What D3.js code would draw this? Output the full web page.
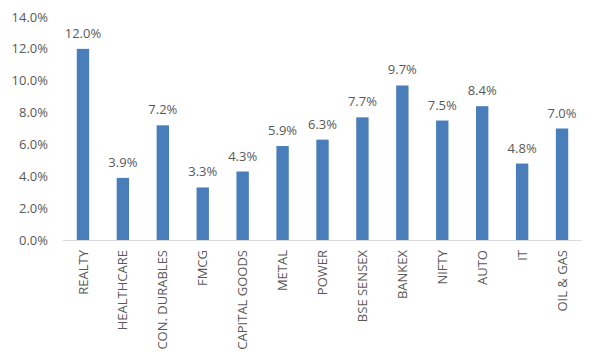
<!DOCTYPE html>
<script src="https://d3js.org/d3.v7.min.js"></script>
<style>
    body { margin: 0; background: #fff; }
    text { font-family: "Open Sans", sans-serif; fill: #595959; }
</style>
<body>
<svg width="600" height="360" class="chart"></svg>
</body>
<script>
    const categories = ['REALTY', 'HEALTHCARE', 'CON. DURABLES', 'FMCG', 'CAPITAL GOODS', 'METAL',
        'POWER', 'BSE SENSEX', 'BANKEX', 'NIFTY', 'AUTO', 'IT', 'OIL & GAS'];
    const values = [12.0, 3.9, 7.2, 3.3, 4.3, 5.9, 6.3, 7.7, 9.7, 7.5, 8.4, 4.8, 7.0];
    const yTicks = [0, 2, 4, 6, 8, 10, 12, 14];

    const margin = { top: 17, right: 18, bottom: 120, left: 63 },
        width = 600 - margin.left - margin.right,
        height = 360 - margin.top - margin.bottom;

    const svg = d3.select('.chart');
    const g = svg.append('g')
        .attr('transform', 'translate(' + margin.left + ',' + margin.top + ')');

    const x = d3.scaleBand().domain(categories).range([0, width]).paddingInner(0.69).paddingOuter(0.345);
    const y = d3.scaleLinear().domain([0, 14]).range([height, 0]);

    // y axis labels only
    g.append('g')
        .selectAll('text')
        .data(yTicks)
        .enter()
        .append('text')
        .attr('x', -15)
        .attr('y', d => y(d))
        .attr('dy', '0.35em')
        .attr('text-anchor', 'end')
        .style('font-size', '13px')
        .text(d => d.toFixed(1) + '%');

    g.selectAll('.bar')
        .data(values)
        .enter()
        .append('rect')
        .attr('class', 'bar')
        .attr('fill', '#4a7ebb')
        .attr('x', (d, i) => x(categories[i]))
        .attr('y', d => y(d))
        .attr('width', x.bandwidth())
        .attr('height', d => height - y(d));

    g.selectAll('.val')
        .data(values)
        .enter()
        .append('text')
        .attr('x', (d, i) => x(categories[i]) + x.bandwidth() / 2)
        .attr('y', d => y(d) - 11)
        .attr('text-anchor', 'middle')
        .style('font-size', '13px')
        .text(d => d.toFixed(1) + '%');

    // baseline
    g.append('line')
        .attr('x1', 0).attr('x2', width)
        .attr('y1', height + 0.5).attr('y2', height + 0.5)
        .attr('stroke', '#d9d9d9')
        .attr('stroke-width', 1);

    g.append('g')
        .selectAll('text')
        .data(categories)
        .enter()
        .append('text')
        .attr('transform', d => 'translate(' + (x(d) + x.bandwidth() / 2) + ',' + (height + 10) + ') rotate(-90)')
        .attr('dy', '0.35em')
        .attr('text-anchor', 'end')
        .style('font-size', '13px')
        .text(d => d);
</script>
